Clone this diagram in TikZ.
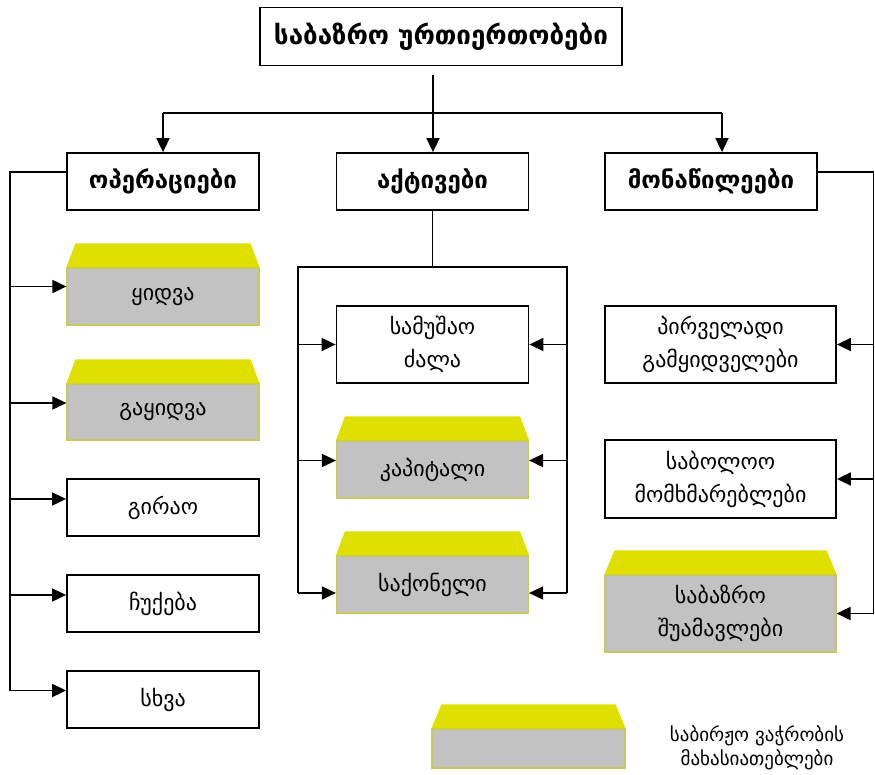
\documentclass[tikz,border=0pt]{standalone}
\usepackage{fontspec}
\setmainfont{DejaVu Sans}
\usetikzlibrary{arrows.meta}
\definecolor{ylw}{RGB}{224,224,0}
\definecolor{gry}{RGB}{194,194,194}
\definecolor{olv}{RGB}{200,200,96}
\tikzset{
  box/.style={draw=black, line width=1.8pt, fill=white, minimum width=192pt,
    minimum height=57pt, inner sep=0pt, align=center,
    font=\fontsize{22}{33}\selectfont},
  hbox/.style={box, font=\bfseries\fontsize{24}{28}\selectfont},
  ybox/.style={box, draw=olv, line width=1.2pt, fill=gry},
  conn/.style={line width=1.8pt},
  arr/.style={conn, -{Triangle[length=14pt,width=13pt]}},
}
\newcommand\ytop[2][9pt]{%
  \fill[ylw] (#2.north west) -- ([shift={(#1,24pt)}]#2.north west)
    -- ([shift={(-#1,24pt)}]#2.north east) -- (#2.north east) -- cycle;}
\begin{document}
\begin{tikzpicture}[x=1pt,y=-1pt]
\useasboundingbox (0,0) rectangle (875,774);
% top
\node[hbox, minimum width=362pt, minimum height=58pt, font=\bfseries\fontsize{26}{30}\selectfont] (top) at (441,36.5) {საბაზრო ურთიერთობები};
% level 2
\node[hbox] (ops) at (163,181.5) {ოპერაციები};
\node[hbox] (act) at (432.5,181.5) {აქტივები};
\node[hbox, minimum width=212pt] (mon) at (711,181.5) {მონაწილეები};
% left column
\node[ybox] (b1) at (163,296.5) {ყიდვა};
\node[ybox, minimum height=56pt] (b2) at (163,412) {გაყიდვა};
\node[box] (b3) at (163,507.5) {გირაო};
\node[box] (b4) at (163,603.5) {ჩუქება};
\node[box] (b5) at (163,699.5) {სხვა};
\ytop{b1}\ytop{b2}
% middle column
\node[box, minimum height=77pt] (c1) at (432.5,344.5) {სამუშაო\\ძალა};
\node[ybox, minimum height=57pt] (c2) at (432.5,469.5) {კაპიტალი};
\node[ybox, minimum height=57pt] (c3) at (432.5,584.5) {საქონელი};
\ytop{c2}\ytop{c3}
% right column
\node[box, minimum width=231pt, minimum height=77pt] (e1) at (720.5,344.5) {პირველადი\\გამყიდველები};
\node[box, minimum width=231pt, minimum height=78pt] (e2) at (720.5,479) {საბოლოო\\მომხმარებლები};
\node[ybox, minimum width=231pt, minimum height=77pt] (e3) at (720.5,613.5) {საბაზრო\\შუამავლები};
\ytop[10pt]{e3}
% legend
\node[ybox, minimum width=193pt, minimum height=39pt] (lg) at (528.5,748.5) {};
\ytop[10pt]{lg}
\node[align=center, inner sep=0pt, font=\fontsize{19}{24}\selectfont] (lgt) at (757,748) {საბირჟო ვაჭრობის\\მახასიათებლები};
% top connectors
\coordinate (t0) at (433,75);
\coordinate (hL) at (163,113);
\coordinate (hR) at (722,113);
\draw[conn] (hL) -- (hR);
\draw[arr] (t0) -- (t0 |- act.north);
\draw[arr] (hL) -- (hL |- ops.north);
\draw[arr] (hR) -- (hR |- mon.north);
% left connectors
\coordinate (lT) at (10,172);
\coordinate (a1) at ([yshift=10pt]b1.west);
\coordinate (a2) at ([yshift=9pt]b2.west);
\coordinate (a3) at ([yshift=8.5pt]b3.west);
\coordinate (a4) at ([yshift=8.5pt]b4.west);
\coordinate (a5) at ([yshift=9pt]b5.west);
\draw[conn] (ops.west |- lT) -- (lT) -- (lT |- a5);
\foreach \p in {a1,a2,a3,a4,a5} \draw[arr] (lT |- \p) -- (\p);
% middle connectors
\coordinate (mJ) at (432.5,267);
\coordinate (ml) at (298,267);
\coordinate (mr) at (567,267);
\coordinate (w1) at (c1.west);
\coordinate (w2) at ([yshift=9pt]c2.west);
\coordinate (w3) at ([yshift=-8.5pt]c3.west);
\coordinate (v1) at (c1.east);
\coordinate (v2) at ([yshift=9pt]c2.east);
\coordinate (v3) at ([yshift=-8.5pt]c3.east);
\draw[conn] (act.south) -- (mJ);
\draw[conn] (ml |- w3) -- (ml) -- (mr) -- (mr |- v3);
\foreach \p in {w1,w2,w3} \draw[arr] (ml |- \p) -- (\p);
\foreach \p in {v1,v2,v3} \draw[arr] (mr |- \p) -- (\p);
% right connectors
\coordinate (rT) at (873.5,172);
\draw[conn] (mon.east |- rT) -- (rT) -- (rT |- e3.east);
\foreach \p in {e1,e2,e3} \draw[arr] (rT |- \p.east) -- (\p.east);
\end{tikzpicture}
\end{document}
